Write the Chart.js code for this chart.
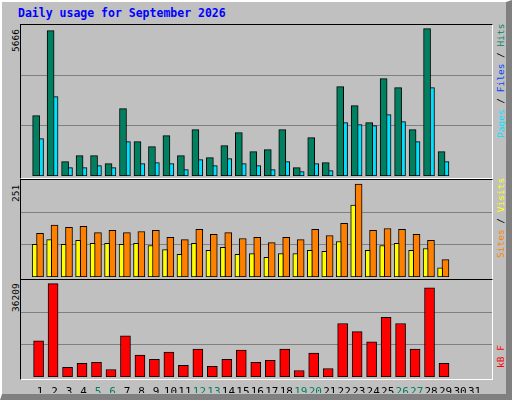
<!DOCTYPE html>
<html><head><meta charset="utf-8">
<script src="https://cdn.jsdelivr.net/npm/chart.js@4"></script>
<style>
body{margin:0;background:#c0c0c0}
#frame{position:absolute;left:0;top:0;width:504px;height:392px;background:#c0c0c0;border-left:2px solid #fff;border-top:2px solid #fff;border-right:6px solid #808080;border-bottom:6px solid #808080}
.t{position:absolute;font-family:"DejaVu Sans Mono",monospace;white-space:nowrap}
.rot{position:absolute;font-family:"DejaVu Sans Mono",monospace;font-size:9.5px;white-space:nowrap;transform:rotate(-90deg);transform-origin:0 0}
.panel{position:absolute;border-top:1px solid #000;border-left:1px solid #000;border-right:1px solid #fff;border-bottom:1px solid #fff}
canvas{position:absolute}
</style></head><body>
<div id="frame"></div>
<div class="t" style="left:18px;top:6px;font-size:11.5px;font-weight:bold;color:#0000ff">Daily usage for September 2026</div>
<div class="rot" style="left:10px;top:52px;color:#000">5666</div>
<div class="rot" style="left:10px;top:202px;color:#000">251</div>
<div class="rot" style="left:10px;top:312px;color:#000">36209</div>
<div class="rot" style="left:495px;top:138px"><span style="color:#00e0ff">Pages</span> / <span style="color:#0040ff">Files</span> / <span style="color:#008060">Hits</span></div>
<div class="rot" style="left:495px;top:258px"><span style="color:#ff8000">Sites</span> / <span style="color:#ffff00">Visits</span></div>
<div class="rot" style="left:495px;top:368px;color:#ff0000">kB F</div>
<div class="panel" style="left:20px;top:24px;width:471px;height:153px"></div>
<div class="panel" style="left:20px;top:179px;width:471px;height:99px"></div>
<div class="panel" style="left:20px;top:279px;width:471px;height:99px"></div>
<canvas id="c1" width="471" height="151" style="left:21px;top:25px"></canvas>
<canvas id="c2" width="471" height="97" style="left:21px;top:180px"></canvas>
<canvas id="c3" width="471" height="113" style="left:21px;top:280px"></canvas>
<script>
const days=[1,2,3,4,5,6,7,8,9,10,11,12,13,14,15,16,17,18,19,20,21,22,23,24,25,26,27,28,29,30,31];
const weekend=[5,6,12,13,19,20,26,27];
const hits=[2320,5589,551,782,782,474,2589,1320,1128,1551,782,1782,705,1167,1666,936,1013,1782,320,1474,513,3435,2705,2051,3743,3397,1782,5666,936,null,null];
const pages=[1436,3051,320,320,397,320,1320,474,513,474,244,628,397,667,474,397,244,551,167,474,205,2051,1974,1936,2359,2090,1320,3397,551,null,null];
const files=[320,450,230,270,230,230,320,230,230,200,160,200,160,160,160,160,120,160,120,160,120,440,490,510,390,260,160,470,80,null,null];
const visits=[88,101,88,99,91,91,88,91,85,74,61,91,72,80,61,63,53,63,63,72,69,96,194,72,85,91,72,77,25,null,null];
const sites=[118,140,134,137,120,126,120,123,126,107,101,129,115,120,104,107,93,107,101,129,112,145,251,126,131,129,115,99,47,null,null];
const kbytes=[14000,36209,3700,5280,5680,2900,15980,8450,6870,9640,4490,10830,4100,6870,10440,5680,6470,10830,2510,9250,3300,20740,17570,13610,23120,20740,10830,34610,5280,null,null];

function ds(vals,off,color,w){
  return {data:days.map((d,i)=>({x:d+off,y:vals[i]})),backgroundColor:color,borderColor:'#000',borderWidth:1,barThickness:w,grouped:false,borderSkipped:false};
}
function yAxis(max){
  return {min:0,max:max,display:true,border:{display:false},ticks:{display:false},
    grid:{color:'#808080',lineWidth:1,drawTicks:false},
    afterBuildTicks:s=>{s.ticks=[{value:max/3},{value:2*max/3}];},
    afterFit:s=>{s.width=0;}};
}
function xAxis(show){
  return {type:'linear',min:0.2,max:31.68,display:show,grid:{display:false},border:{display:false},
    afterBuildTicks:s=>{s.ticks=days.map(v=>({value:v}));},
    afterFit:s=>{s.height=show?16:0;},
    ticks:{autoSkip:false,maxRotation:0,padding:1,font:{family:'DejaVu Sans Mono',size:11},
      color:c=>weekend.includes(c.tick.value)?'#008060':'#000',callback:v=>String(v)}};
}
function make(id,datasets,max,show){
  new Chart(document.getElementById(id),{type:'bar',data:{datasets},
    options:{responsive:false,animation:false,devicePixelRatio:1,layout:{padding:0},
      plugins:{legend:{display:false},tooltip:{enabled:false}},
      scales:{x:xAxis(show),y:yAxis(max)}}});
}
make('c1',[ds(hits,-0.28,'#008060',7),ds(pages,-0.01,'#00e0ff',7),ds(files,-0.34,'#0040ff',2)],5807,false);
make('c2',[ds(visits,-0.38,'#ffff00',5),ds(sites,-0.01,'#ff8000',7)],262,false);
make('c3',[ds(kbytes,-0.11,'#ff0000',10)],37600,true);
</script></body></html>
